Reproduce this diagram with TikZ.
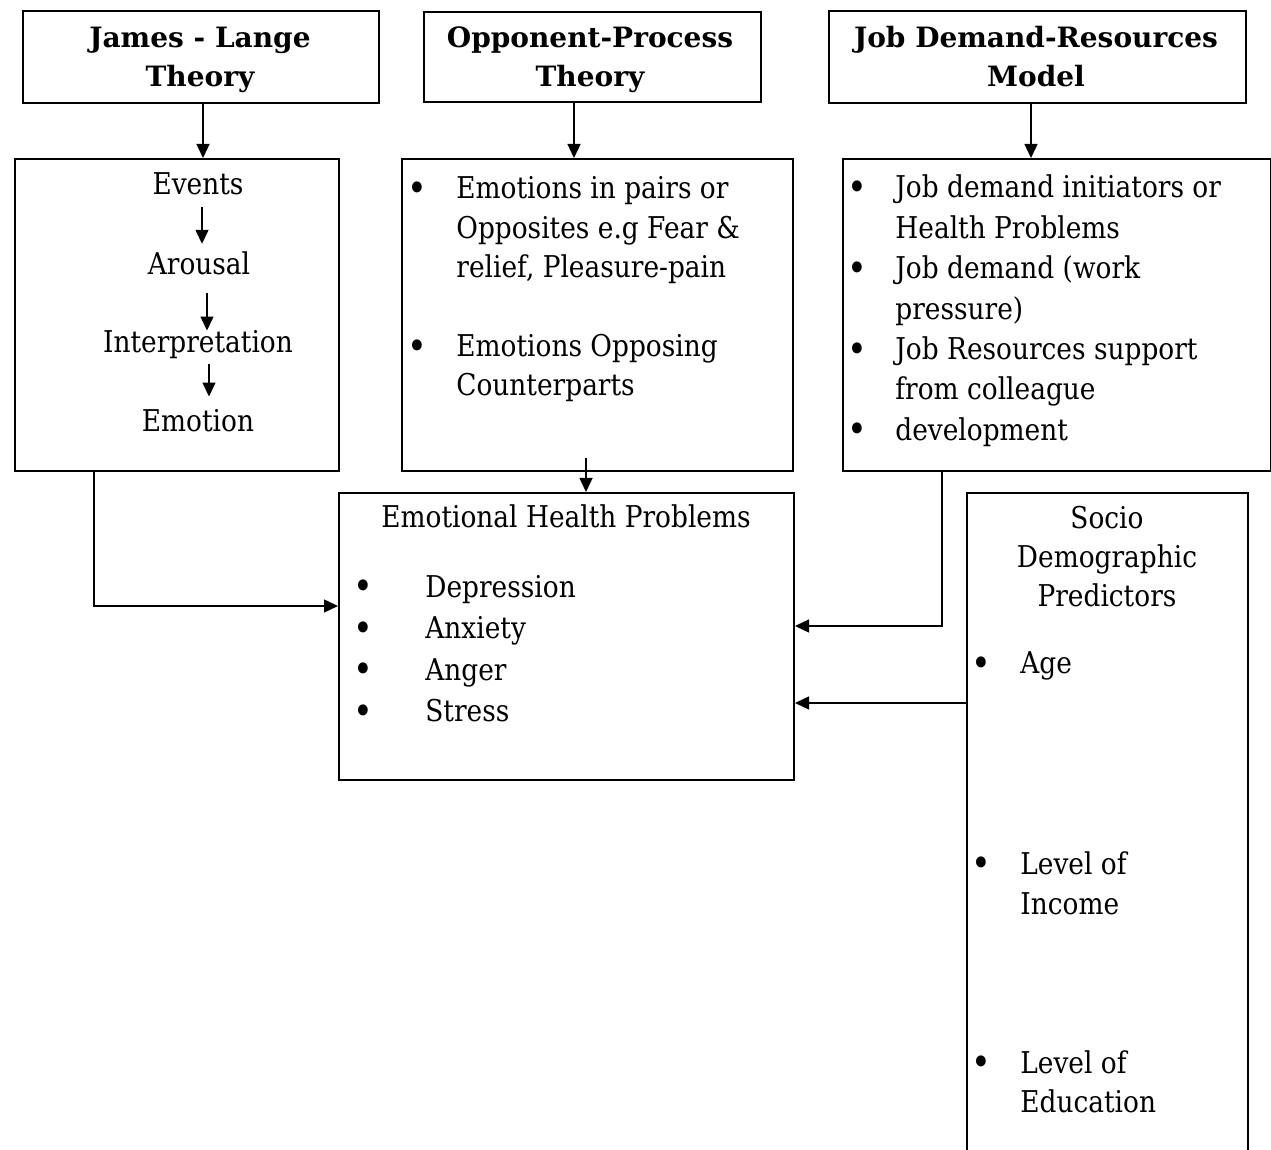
\documentclass[tikz,border=0pt]{standalone}
\usepackage{fontspec}
\setmainfont{DejaVu Serif}
\newfontfamily\bodyfont{DejaVu Serif}[FakeStretch=0.88]
\usetikzlibrary{positioning,arrows.meta}

\tikzset{
	box/.style={draw, line width=1pt, inner sep=0pt, anchor=north west},
	htxt/.style={inner sep=0pt, anchor=base, font=\bfseries\fontsize{14pt}{19.5pt}\selectfont},
	txt/.style={inner sep=0pt, anchor=base west, font=\bodyfont\fontsize{15pt}{19.7pt}\selectfont},
	arr/.style={-{Triangle[length=7pt,width=6.5pt]}, line width=0.7pt},
}
\newcommand{\blist}[2]{\begin{tabular}[t]{@{}p{#1}@{}l@{}}#2\end{tabular}}
\newcommand{\clist}[1]{\begin{tabular}[t]{@{}c@{}}#1\end{tabular}}
\newcommand{\bl}{\hspace{-1pt}\raisebox{-1.3pt}{\fontsize{19pt}{19pt}\selectfont\textbullet}}

\begin{document}
\begin{tikzpicture}[x=0.5pt, y=-0.5pt]
	\clip (0,0) rectangle (1271,1150);
	\node[box, minimum width=178pt, minimum height=46pt] (jlhead) at (22,10) {};
	\node[box, minimum width=168.5pt, minimum height=45pt] (ophead) at (423,11) {};
	\node[box, minimum width=208.5pt, minimum height=46pt] (jdhead) at (828,10) {};
	\node[htxt] (jltitle) at (200,48) {\clist{James - Lange\\Theory}};
	\node[htxt] (optitle) at (590,48) {\clist{Opponent-Process\\Theory}};
	\node[htxt] (jdtitle) at (1036,48) {\clist{Job Demand-Resources\\Model}};
	
	\node[box, minimum width=162pt, minimum height=156pt] (jlbody) at (14,158) {};
	\node[box, minimum width=195.5pt, minimum height=156pt] (opbody) at (401,158) {};
	\node[box, minimum width=214pt, minimum height=156pt] (jdbody) at (842,158) {};
	\node[box, minimum width=227.5pt, minimum height=143.5pt] (ehp) at (338,492) {};
	\node[box, minimum width=140.5pt, minimum height=400pt] (socio) at (966,492) {};
	
	\node[txt, anchor=base] (ev) at (198,195) {Events};
	\node[txt, anchor=base] (ar) at (199,275) {Arousal};
	\node[txt, anchor=base] (interp) at (198,353) {Interpretation};
	\node[txt, anchor=base] (em) at (198,432) {Emotion};
	\foreach \a/\b/\x/\s/\t in {ev/ar/202/5.5pt/4pt, ar/interp/207/8.5pt/0pt, interp/em/209/2pt/6.5pt}
		\draw[arr, shorten <=\s, shorten >=\t] (\a.south -| \x,0) -- (\b.north -| \x,0);
	
	\node[txt] (optxt) at (409,199) {\blist{23.5pt}{\bl & Emotions in pairs or\\ & Opposites e.g Fear \&\\ & relief, Pleasure-pain\\ & \\ \bl & Emotions Opposing\\ & Counterparts}};
	\node[txt, font=\bodyfont\fontsize{15pt}{20.2pt}\selectfont] (jdtxt) at (849,198) {\blist{23pt}{\bl & Job demand initiators or\\ & Health Problems\\ \bl & Job demand (work\\ & pressure)\\ \bl & Job Resources support\\ & from colleague\\ \bl & development}};
	
	\node[txt, anchor=base] (ehptitle) at (566,528) {Emotional Health Problems};
	\node[txt, font=\bodyfont\fontsize{15pt}{20.8pt}\selectfont] (ehptxt) at (355,597) {\blist{35pt}{\bl & Depression\\ \bl & Anxiety\\ \bl & Anger\\ \bl & Stress}};
	
	\node[txt, anchor=base, font=\bodyfont\fontsize{15pt}{19.5pt}\selectfont] (sotitle) at (1107,529) {\clist{Socio\\Demographic\\Predictors}};
	\node[txt] (age) at (973,674) {\blist{23.5pt}{\bl & Age}};
	\node[txt, font=\bodyfont\fontsize{15pt}{20pt}\selectfont] (income) at (973,874) {\blist{23.5pt}{\bl & Level of\\ & Income}};
	\node[txt, font=\bodyfont\fontsize{15pt}{19.5pt}\selectfont] (educ) at (973,1073) {\blist{23.5pt}{\bl & Level of\\ & Education}};
	
	\draw[arr] (jlhead.south -| 203,0) -- (jlbody.north -| 203,0);
	\draw[arr] (ophead.south -| 574,0) -- (opbody.north -| 574,0);
	\draw[arr] (jdhead.south -| 1031,0) -- (jdbody.north -| 1031,0);
	\coordinate (opout) at (586,458);
	\draw[arr] (opout) -- (opout |- ehp.north);
	\draw[arr] (jlbody.south -| 94,0) |- (ehp.west |- 0,606);
	\draw[arr] (jdbody.south -| 942,0) |- (ehp.east |- 0,626);
	\draw[arr] (socio.west |- 0,703) -- (ehp.east |- 0,703);
\end{tikzpicture}
\end{document}
